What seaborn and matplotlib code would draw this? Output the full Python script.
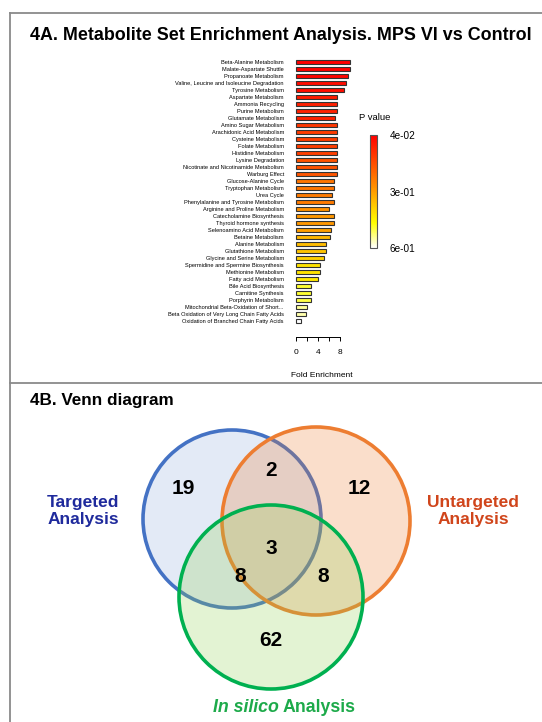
import matplotlib
matplotlib.use("Agg")
import matplotlib.pyplot as plt
import seaborn as sns
from matplotlib.colors import LinearSegmentedColormap, Normalize
from matplotlib.cm import ScalarMappable
from matplotlib.patches import Circle

# ---- 4A data: metabolite sets, fold enrichment, p value ----
set_names = [
    "Beta-Alanine Metabolism", "Malate-Aspartate Shuttle", "Propanoate Metabolism",
    "Valine, Leucine and Isoleucine Degradation", "Tyrosine Metabolism",
    "Aspartate Metabolism", "Ammonia Recycling", "Purine Metabolism",
    "Glutamate Metabolism", "Amino Sugar Metabolism", "Arachidonic Acid Metabolism",
    "Cysteine Metabolism", "Folate Metabolism", "Histidine Metabolism",
    "Lysine Degradation", "Nicotinate and Nicotinamide Metabolism", "Warburg Effect",
    "Glucose-Alanine Cycle", "Tryptophan Metabolism", "Urea Cycle",
    "Phenylalanine and Tyrosine Metabolism", "Arginine and Proline Metabolism",
    "Catecholamine Biosynthesis", "Thyroid hormone synthesis",
    "Selenoamino Acid Metabolism", "Betaine Metabolism", "Alanine Metabolism",
    "Glutathione Metabolism", "Glycine and Serine Metabolism",
    "Spermidine and Spermine Biosynthesis", "Methionine Metabolism",
    "Fatty acid Metabolism", "Bile Acid Biosynthesis", "Carnitine Synthesis",
    "Porphyrin Metabolism", "Mitochondrial Beta-Oxidation of Short...",
    "Beta Oxidation of Very Long Chain Fatty Acids",
    "Oxidation of Branched Chain Fatty Acids",
]
fold_enrichment = [
    9.8, 9.8, 9.5, 9.1, 8.85, 7.6, 7.45, 7.45, 7.2, 7.6, 7.6, 7.6, 7.6, 7.6,
    7.6, 7.6, 7.6, 7.0, 7.0, 6.6, 7.0, 6.1, 7.0, 7.0, 6.4, 6.2, 5.6, 5.6,
    5.1, 4.5, 4.5, 4.1, 2.7, 2.7, 2.7, 2.1, 1.9, 1.0,
]
p_values = [
    0.04, 0.045, 0.05, 0.06, 0.065, 0.09, 0.095, 0.10, 0.10, 0.14, 0.145, 0.15,
    0.15, 0.155, 0.19, 0.19, 0.195, 0.25, 0.25, 0.26, 0.26, 0.30, 0.31, 0.31,
    0.32, 0.36, 0.37, 0.38, 0.40, 0.43, 0.43, 0.44, 0.50, 0.50, 0.51, 0.55,
    0.56, 0.60,
]
p_ticks = [0.04, 0.32, 0.60]
p_tick_labels = ["4e-02", "3e-01", "6e-01"]

# ---- 4B data: Venn region counts ----
venn_counts = {"T": 19, "TU": 2, "U": 12, "TUS": 3, "TS": 8, "US": 8, "S": 62}

W, H = 542, 722
fig = plt.figure(figsize=(W / 100, H / 100), dpi=100)
plt.rcParams["font.family"] = ["Liberation Sans", "DejaVu Sans"]

# full-figure canvas in pixel coordinates
base = fig.add_axes([0, 0, 1, 1], zorder=0)
base.set_xlim(0, W)
base.set_ylim(H, 0)
base.axis("off")
frame = dict(color="#8a8a8a", lw=1.3)
base.plot([10, W], [13, 13], **frame)
base.plot([10, 10], [13, H], **frame)
base.plot([10, W], [383, 383], **frame)
base.text(30, 36, "4A. Metabolite Set Enrichment Analysis. MPS VI vs Control",
          fontsize=12.9, fontweight="bold", ha="left", va="center")
base.text(30, 400, "4B. Venn diagram", fontsize=12.3, fontweight="bold",
          ha="left", va="center")

# ---- bar chart ----
cmap = LinearSegmentedColormap.from_list(
    "pv", [(0, "#FF0000"), (0.45, "#FF8C00"), (0.78, "#FFFF00"), (1, "#FFFFFF")])
norm = Normalize(p_ticks[0], p_ticks[-1])
bar_colors = [cmap(norm(p)) for p in p_values]

ax = fig.add_axes([290.2 / W, 1 - 324.5 / H, 63.25 / W, 266 / H], zorder=2)
sns.barplot(x=fold_enrichment, y=set_names, hue=set_names, palette=bar_colors,
            legend=False, orient="h", edgecolor="#333333", linewidth=0.8,
            width=0.7, saturation=1, ax=ax)
ax.set_xlim(-1, 10.5)
ax.set_ylim(len(set_names) - 0.5, -0.5)
ax.set_ylabel("")
for s in ["top", "right", "left"]:
    ax.spines[s].set_visible(False)
ax.spines["bottom"].set_bounds(0, 8)
ax.spines["bottom"].set_position(("outward", 9))
ax.spines["bottom"].set_linewidth(0.7)
ax.set_xticks([0, 2, 4, 6, 8])
ax.set_xticklabels(["0", "", "4", "", "8"])
ax.tick_params(axis="x", length=3, width=0.7, labelsize=6, pad=6)
ax.tick_params(axis="y", length=0, labelsize=4.1, pad=4.5)
ax.set_xlabel("Fold Enrichment", fontsize=6, labelpad=11)
ax.set_facecolor("none")

# colorbar
cax = fig.add_axes([370 / W, 1 - 248 / H, 7 / W, 113 / H], zorder=2)
cb = fig.colorbar(ScalarMappable(norm=norm, cmap=cmap), cax=cax)
cax.invert_yaxis()
cb.set_ticks(p_ticks)
cb.set_ticklabels(p_tick_labels)
cax.tick_params(length=0, labelsize=7.2, pad=9)
cb.outline.set_linewidth(0.8)
cb.outline.set_edgecolor("#555555")
base.text(375, 117, "P value", fontsize=6.8, ha="center", va="center")

# ---- Venn diagram ----
circles = [
    ((232, 519), 89, "#4472C4", (68 / 255, 114 / 255, 196 / 255, 0.15)),
    ((316, 521), 94, "#ED7D31", (237 / 255, 125 / 255, 49 / 255, 0.25)),
    ((271, 597), 92, "#00B050", (146 / 255, 208 / 255, 80 / 255, 0.25)),
]
for (cx, cy), r, ec, fc in circles:
    base.add_patch(Circle((cx, cy), r, facecolor=fc, edgecolor=ec, lw=2.6))

count_pos = {"T": (183, 488), "TU": (271, 470), "U": (359, 488),
             "TUS": (271, 549), "TS": (240, 577), "US": (323, 577), "S": (271, 640)}
for key, val in venn_counts.items():
    x, y = count_pos[key]
    base.text(x, y, str(val), fontsize=15, fontweight="bold",
              ha="center", va="center")

base.text(83, 511, "Targeted\nAnalysis", fontsize=12.5, fontweight="bold",
          color="#1F2A9C", ha="center", va="center", linespacing=1.15)
base.text(473, 511, "Untargeted\nAnalysis", fontsize=12.5, fontweight="bold",
          color="#D0451B", ha="center", va="center", linespacing=1.15)
base.text(279, 708, "In silico", fontsize=12.8, fontweight="bold", style="italic",
          color="#1DAA4A", ha="right", va="center")
base.text(283, 708, "Analysis", fontsize=12.8, fontweight="bold",
          color="#1DAA4A", ha="left", va="center")

fig.savefig("out.png", dpi=100)
